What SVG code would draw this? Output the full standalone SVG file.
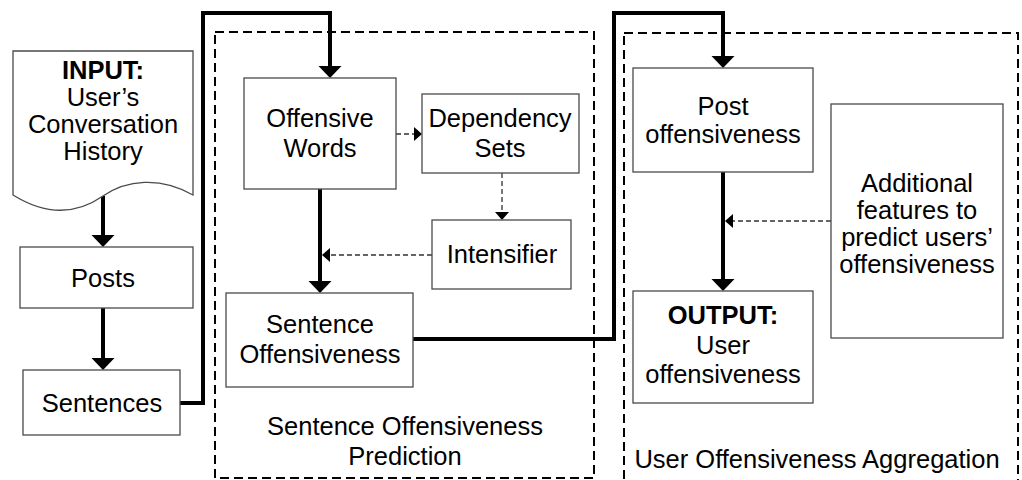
<svg xmlns="http://www.w3.org/2000/svg" width="1022" height="480" viewBox="0 0 1022 480">
  <style>
    .box { fill: #ffffff; stroke: #4a4a4a; stroke-width: 1.3; }
    .frame { fill: none; stroke: #000000; stroke-width: 2; stroke-dasharray: 9 5; }
    .thick { fill: none; stroke: #000000; stroke-width: 4; }
    .thin { fill: none; stroke: #333333; stroke-width: 1.3; stroke-dasharray: 5 3; }
    text { font-family: "Liberation Sans", Arial, sans-serif; font-size: 25.5px; fill: #000000; text-anchor: middle; }
    .b { font-weight: bold; }
  </style>
  <defs>
    <marker id="bigHead" markerUnits="userSpaceOnUse" markerWidth="13" markerHeight="23" refX="0" refY="11.5" orient="auto" overflow="visible">
      <path d="M0,0 L12,11.5 L0,23 Z" fill="#000000"/>
    </marker>
    <marker id="smallHead" markerUnits="userSpaceOnUse" markerWidth="9" markerHeight="15" refX="0" refY="7" orient="auto" overflow="visible">
      <path d="M0,0 L8,7 L0,14 Z" fill="#000000"/>
    </marker>
  </defs>

  <rect width="1022" height="480" fill="#ffffff"/>

  <!-- stage frames -->
  <g id="frame-sentence">
    <rect class="frame" x="215" y="32" width="379" height="446"/>
    <text x="405" y="435">Sentence Offensiveness</text>
    <text x="405" y="465">Prediction</text>
  </g>
  <g id="frame-user">
    <rect class="frame" x="624" y="33" width="394" height="452"/>
    <text x="817" y="468">User Offensiveness Aggregation</text>
  </g>

  <!-- connectors -->
  <g id="connectors">
    <line class="thick" x1="103" y1="196" x2="103" y2="235" marker-end="url(#bigHead)"/>
    <line class="thick" x1="103" y1="308" x2="103" y2="358" marker-end="url(#bigHead)"/>
    <path class="thick" d="M180,403 H203 V13 H330 V66" marker-end="url(#bigHead)"/>
    <line class="thick" x1="320" y1="189" x2="320" y2="281" marker-end="url(#bigHead)"/>
    <line class="thin" x1="396" y1="134" x2="414" y2="134" marker-end="url(#smallHead)"/>
    <line class="thin" x1="502" y1="173" x2="502" y2="212" marker-end="url(#smallHead)"/>
    <line class="thin" x1="432" y1="255" x2="330" y2="255" marker-end="url(#smallHead)"/>
    <path class="thick" d="M413,339 H614 V13 H723 V56" marker-end="url(#bigHead)"/>
    <line class="thick" x1="723" y1="172" x2="723" y2="279" marker-end="url(#bigHead)"/>
    <line class="thin" x1="831" y1="221" x2="733" y2="221" marker-end="url(#smallHead)"/>
  </g>

  <!-- nodes -->
  <g id="input">
    <path class="box" d="M13,51 H193 V195 C160,176 126,180 103,196 C80,212 50,218 13,195 Z"/>
    <text class="b" x="103" y="79">INPUT:</text>
    <text x="103" y="106">User’s</text>
    <text x="103" y="133">Conversation</text>
    <text x="103" y="160">History</text>
  </g>
  <g id="posts">
    <rect class="box" x="20" y="247" width="173" height="61"/>
    <text x="103" y="287">Posts</text>
  </g>
  <g id="sentences">
    <rect class="box" x="23" y="370" width="157" height="65"/>
    <text x="102" y="412">Sentences</text>
  </g>
  <g id="offensive-words">
    <rect class="box" x="244" y="78" width="152" height="111"/>
    <text x="320" y="127">Offensive</text>
    <text x="320" y="157">Words</text>
  </g>
  <g id="dependency-sets">
    <rect class="box" x="422" y="94" width="157" height="79"/>
    <text x="500" y="127">Dependency</text>
    <text x="500" y="157">Sets</text>
  </g>
  <g id="intensifier">
    <rect class="box" x="432" y="220" width="139" height="69"/>
    <text x="502" y="263">Intensifier</text>
  </g>
  <g id="sentence-offensiveness">
    <rect class="box" x="226" y="293" width="187" height="94"/>
    <text x="320" y="333">Sentence</text>
    <text x="320" y="363">Offensiveness</text>
  </g>
  <g id="post-offensiveness">
    <rect class="box" x="633" y="68" width="180" height="104"/>
    <text x="723" y="115">Post</text>
    <text x="723" y="143">offensiveness</text>
  </g>
  <g id="additional-features">
    <rect class="box" x="831" y="104" width="172" height="234"/>
    <text x="917" y="192">Additional</text>
    <text x="917" y="219">features to</text>
    <text x="917" y="246">predict users’</text>
    <text x="917" y="273">offensiveness</text>
  </g>
  <g id="output">
    <rect class="box" x="633" y="291" width="180" height="112"/>
    <text class="b" x="723" y="324">OUTPUT:</text>
    <text x="723" y="354">User</text>
    <text x="723" y="383">offensiveness</text>
  </g>
</svg>
